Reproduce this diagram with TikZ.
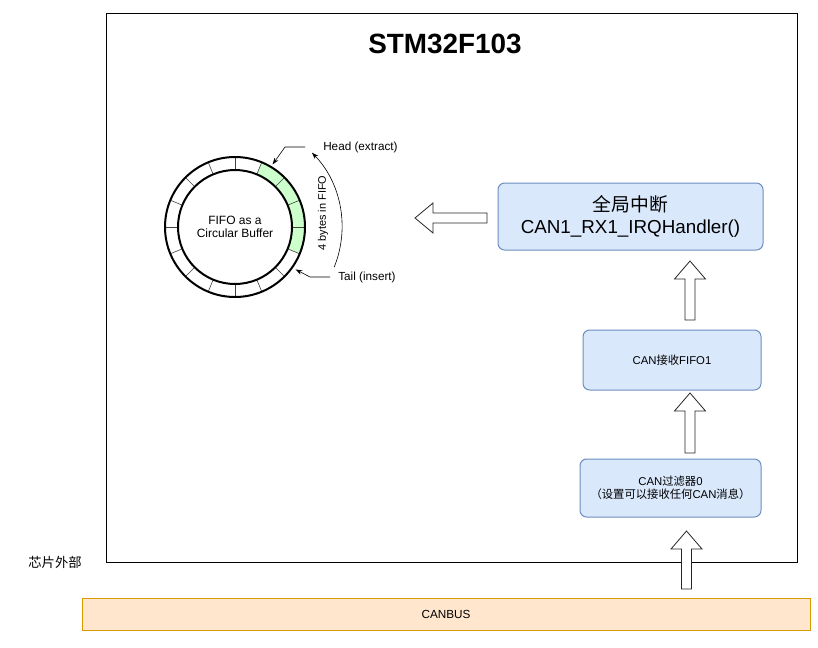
\documentclass[tikz,border=0pt]{standalone}
\usepackage{fontspec}
\setmainfont{Liberation Sans}
\newfontfamily\cjk{Noto Sans CJK SC}
\usetikzlibrary{calc,arrows.meta}
\definecolor{boxblue}{HTML}{DAE8FC}
\definecolor{lineblue}{HTML}{6C8EBF}
\definecolor{busorange}{HTML}{FFE6CC}
\definecolor{lineorange}{HTML}{D79B00}
\definecolor{fifogreen}{HTML}{CCFFCC}
\tikzset{
	bluebox/.style={draw=lineblue, fill=boxblue, rounded corners=5pt, line width=0.75pt, align=center, inner sep=0pt},
	blockarrow/.style={draw=black!85, fill=white, line width=0.6pt, line join=miter},
	ringline/.style={line width=1.5pt},
	segline/.style={line width=0.45pt, color=black!75},
	leader/.style={line width=0.45pt, -{Stealth[length=5pt,width=3.5pt]}},
	smalltext/.style={font=\fontsize{8.5}{10}\selectfont, align=center}
}
\newcommand\uparrowfrom[2]{\draw[blockarrow] ($(#1)+(-5,0)$) -- ($(#2)+(-5,18)$) -- ($(#2)+(-15.5,18)$) -- (#2) -- ($(#2)+(15.5,18)$) -- ($(#2)+(5,18)$) -- ($(#1)+(5,0)$) -- cycle;}

\begin{document}
\begin{tikzpicture}[x=0.75pt, y=-0.75pt]
		%%%%% START %%%%%
		\useasboundingbox (0,0) rectangle (818,647);
		
		\node[draw, line width=0.75pt, minimum width=518.25pt, minimum height=411.75pt] (chip) at (451.5,287.5) {};
		\node[font=\fontsize{20.9}{24}\selectfont\bfseries] (title) at (445,44) {STM32F103};
		
		% ring buffer
		\begin{scope}[shift={(235,227)}, y=0.75pt]
			\fill[fifogreen] (67.5:57) arc[start angle=67.5, end angle=-22.5, radius=57] -- (-22.5:70) arc[start angle=-22.5, end angle=67.5, radius=70] -- cycle;
			\foreach \a in {0,22.5,...,337.5}
				\draw[segline] (\a:57) -- (\a:70);
			\draw[ringline] (0,0) circle[radius=70];
			\draw[ringline] (0,0) circle[radius=57];
			\node[font=\fontsize{9}{9.75}\selectfont, align=center] (fifotext) at (0,0) {FIFO as a\\Circular Buffer};
			\coordinate (headpt) at (59:73);
			\coordinate (tailpt) at (-35:74);
			\draw[leader] (-22:107) arc[start angle=-22, end angle=44, radius=107];
		\end{scope}
		\node[rotate=90, font=\fontsize{8.2}{10}\selectfont] (countlbl) at (323,213) {4 bytes in FIFO};
		
		\node[anchor=west, inner sep=0pt, font=\fontsize{8.8}{10}\selectfont] (headlbl) at (323,147) {Head (extract)};
		\node[anchor=west, inner sep=0pt, font=\fontsize{8.8}{10}\selectfont] (taillbl) at (338,277) {Tail (insert)};
		\draw[leader] ([xshift=-13.5pt]headlbl.west) -- ++(-20,0) -- (headpt);
		\draw[leader] ([xshift=-6pt]taillbl.west) -- ++(-20,0) -- (tailpt);
		
		% boxes
		\node[bluebox, minimum width=198.75pt, minimum height=50.25pt, font=\fontsize{14.1}{16}\selectfont] (handler) at (630.5,216.5) {{\cjk 全局中断}\\CAN1\_RX1\_IRQHandler()};
		\node[bluebox, minimum width=133.5pt, minimum height=45pt, smalltext] (fifo1) at (672,360) {CAN{\cjk 接收}FIFO1};
		\node[bluebox, minimum width=135.75pt, minimum height=43.5pt, smalltext] (filter) at (670.5,488) {CAN{\cjk 过滤器}0\\{\cjk （设置可以接收任何}CAN{\cjk 消息）}};
		\node[draw=lineorange, fill=busorange, line width=0.75pt, minimum width=546pt, minimum height=24pt, font=\fontsize{8.8}{10}\selectfont] (canbus) at (446,614) {CANBUS};
		\node[font=\fontsize{10}{12}\selectfont\cjk] (outside) at (55,562) {芯片外部};
		
		% hollow arrows
		\coordinate (up1s) at (690,320);
		\coordinate (up1t) at (690,261);
		\coordinate (up2s) at (690,453);
		\coordinate (up2t) at (690,393);
		\coordinate (up3s) at (686.5,589);
		\coordinate (up3t) at (686.5,531);
		\uparrowfrom{up1s}{up1t}
		\uparrowfrom{up2s}{up2t}
		\uparrowfrom{up3s}{up3t}
		
		\coordinate (lefts) at (487,218);
		\coordinate (leftt) at (415,218);
		\draw[blockarrow] ($(lefts)+(0,-5)$) -- ($(leftt)+(18,-5)$) -- ($(leftt)+(18,-15)$) -- (leftt) -- ($(leftt)+(18,15)$) -- ($(leftt)+(18,5)$) -- ($(lefts)+(0,5)$) -- cycle;
		
		%%%%% END %%%%%
\end{tikzpicture}
\end{document}
